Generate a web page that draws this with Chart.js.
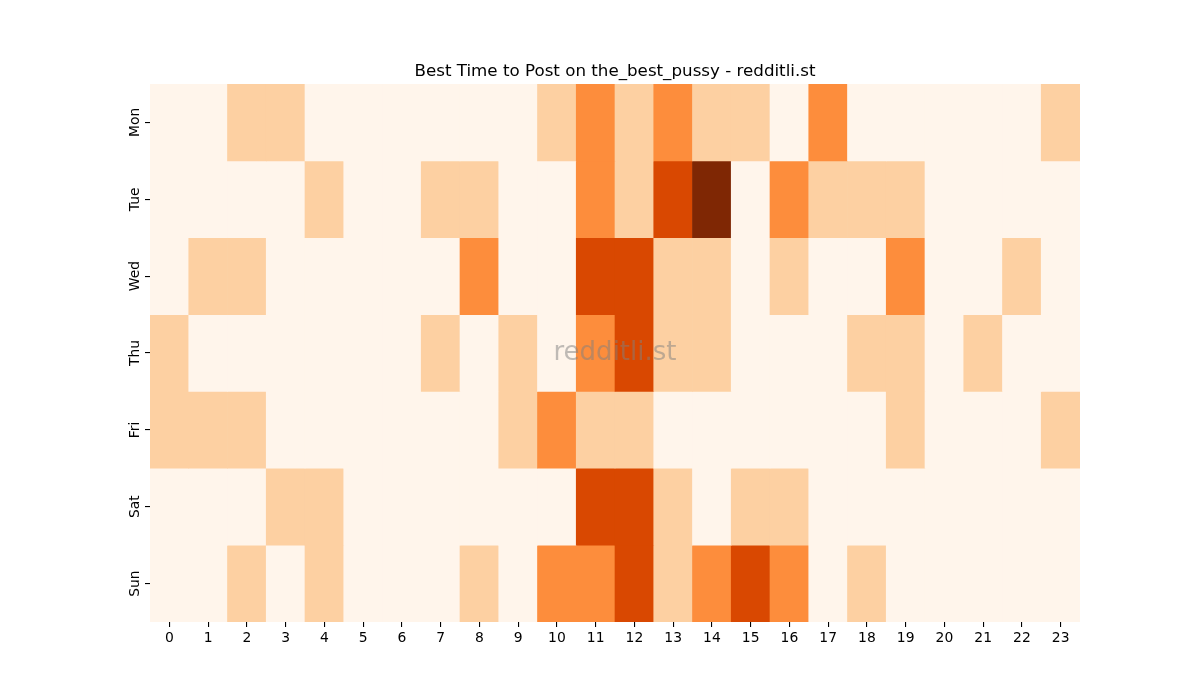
<!DOCTYPE html>
<html>
<head>
<meta charset="utf-8">
<script src="https://cdn.jsdelivr.net/npm/chart.js@4"></script>
<style>
html,body{margin:0;padding:0;background:#fff;}
#wrap{width:1200px;height:700px;}
</style>
</head>
<body>
<div id="wrap"><canvas id="c" width="1200" height="700"></canvas></div>
<script>
const hours = ['0','1','2','3','4','5','6','7','8','9','10','11','12','13','14','15','16','17','18','19','20','21','22','23'];
const days = ['Mon','Tue','Wed','Thu','Fri','Sat','Sun'];
const mon = [0,0,1,1,0,0,0,0,0,0,1,2,1,2,1,1,0,2,0,0,0,0,0,1];
const tue = [0,0,0,0,1,0,0,1,1,0,0,2,1,3,4,0,2,1,1,1,0,0,0,0];
const wed = [0,1,1,0,0,0,0,0,2,0,0,3,3,1,1,0,1,0,0,2,0,0,1,0];
const thu = [1,0,0,0,0,0,0,1,0,1,0,2,3,1,1,0,0,0,1,1,0,1,0,0];
const fri = [1,1,1,0,0,0,0,0,0,1,2,1,1,0,0,0,0,0,0,1,0,0,0,1];
const sat = [0,0,0,1,1,0,0,0,0,0,0,3,3,1,0,1,1,0,0,0,0,0,0,0];
const sun = [0,0,1,0,1,0,0,0,1,0,2,2,3,1,2,3,2,0,1,0,0,0,0,0];
const rows = [mon, tue, wed, thu, fri, sat, sun];
const palette = ['#fff5eb','#fdd0a2','#fd8d3c','#d94801','#7f2704'];
const titleText = 'Best Time to Post on the_best_pussy - redditli.st';

const datasets = rows.map((vals, r) => ({
  label: days[r],
  data: vals.map(() => [r, r + 1]),
  backgroundColor: vals.map(v => palette[v]),
  borderWidth: 0,
  barPercentage: 1.0,
  categoryPercentage: 1.0,
  grouped: false
}));

const decorations = {
  id: 'decorations',
  afterDraw(chart) {
    const {ctx, chartArea, scales} = chart;
    const cx = (chartArea.left + chartArea.right) / 2;
    ctx.save();
    // watermark
    ctx.font = '26px "DejaVu Sans"';
    ctx.fillStyle = 'rgba(128,128,128,0.5)';
    ctx.textAlign = 'center';
    ctx.textBaseline = 'middle';
    ctx.fillText('redditli.st', cx, (chartArea.top + chartArea.bottom) / 2);
    // title
    ctx.font = '16.7px "DejaVu Sans"';
    ctx.fillStyle = '#000';
    ctx.textAlign = 'center';
    ctx.textBaseline = 'alphabetic';
    ctx.fillText(titleText, cx, chartArea.top - 8);
    // y tick labels (rotated)
    ctx.font = '13.9px "DejaVu Sans"';
    days.forEach((d, i) => {
      const y = scales.y.getPixelForValue(i + 0.5);
      ctx.save();
      ctx.translate(chartArea.left - 11, y);
      ctx.rotate(-Math.PI / 2);
      ctx.textAlign = 'center';
      ctx.textBaseline = 'alphabetic';
      ctx.fillText(d, 0, 0);
      ctx.restore();
    });
    ctx.restore();
  }
};

new Chart(document.getElementById('c'), {
  type: 'bar',
  data: { labels: hours, datasets },
  plugins: [decorations],
  options: {
    responsive: false,
    devicePixelRatio: 1,
    animation: false,
    layout: { padding: { left: 0, right: 120, top: 84, bottom: 0 } },
    plugins: {
      legend: { display: false },
      tooltip: { enabled: false },
      title: { display: false }
    },
    scales: {
      x: {
        type: 'category',
        offset: true,
        border: { display: false },
        grid: { display: true, drawOnChartArea: false, drawTicks: true, tickLength: 5, lineWidth: 1.1, color: '#000', offset: false },
        ticks: { color: '#000', font: { family: '"DejaVu Sans"', size: 13.9 }, padding: 3, maxRotation: 0, minRotation: 0, autoSkip: false },
        afterFit(scale) { scale.height = 78; }
      },
      y: {
        type: 'linear',
        min: 0,
        max: 7,
        reverse: true,
        border: { display: false },
        grid: { display: true, drawOnChartArea: false, drawTicks: true, tickLength: 5, lineWidth: 1.1, color: '#000' },
        afterBuildTicks(scale) { scale.ticks = days.map((d, i) => ({ value: i + 0.5 })); },
        ticks: {
          color: 'rgba(0,0,0,0)',
          font: { family: '"DejaVu Sans"', size: 13.9 },
          callback() { return ''; }
        },
        afterFit(scale) { scale.width = 150; }
      }
    }
  }
});
</script>
</body>
</html>
